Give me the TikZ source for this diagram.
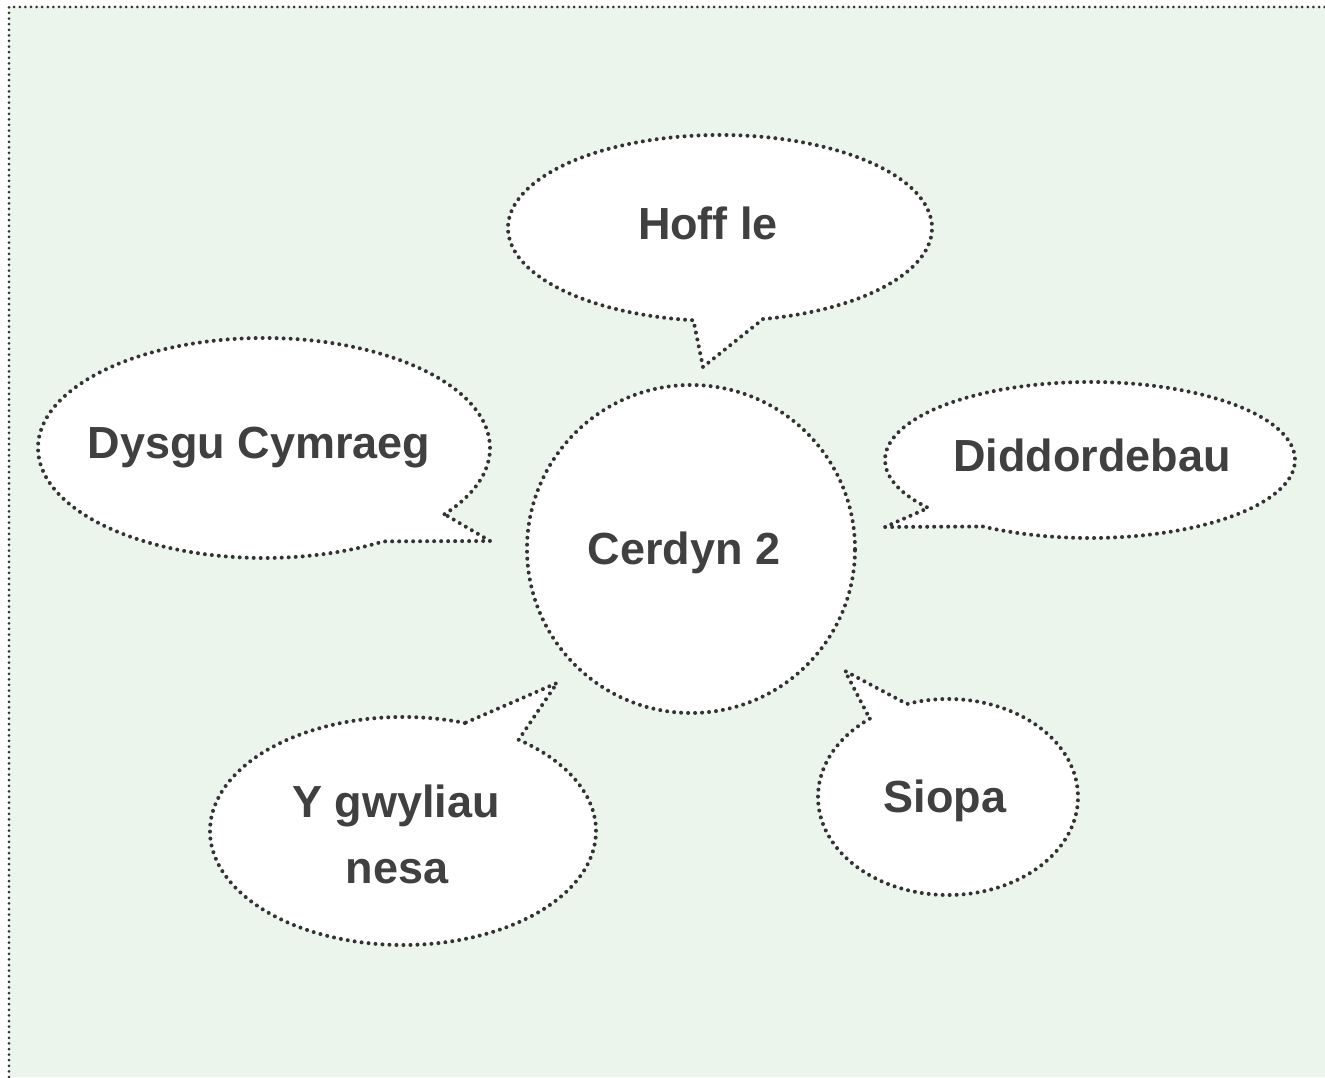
\documentclass[tikz,border=0pt]{standalone}
\usepackage{fontspec}
\setmainfont[Ligatures=NoCommon]{Liberation Sans}
\definecolor{bg}{HTML}{EBF5EC}
\definecolor{ink}{HTML}{404040}
\definecolor{dotc}{HTML}{333333}
\begin{document}
\begin{tikzpicture}[x=1pt,y=1pt,
  bubble/.style={fill=white,draw=dotc,line width=4pt,dash pattern=on 0pt off 7pt,line cap=round,line join=round},
  frameline/.style={draw=dotc,line width=3pt,dash pattern=on 0pt off 5.6pt,line cap=round},
  label/.style={text=ink,font=\bfseries\fontsize{45}{66}\selectfont,inner sep=0pt,anchor=base}]
\useasboundingbox (0,0) rectangle (1325,1077);
% background
\fill[bg] (9,0) rectangle (1325,1070);
\draw[frameline] (9,0) -- (9,1070) -- (1325,1070);
% centre circle
\draw[bubble] (691,528) circle[radius=164];
% Hoff le
\draw[bubble] ([shift={(-78.3:212 and 93)}]720,849) arc[start angle=-78.3,end angle=262.8,x radius=212,y radius=93] -- (703,710) -- cycle;
% Dysgu Cymraeg
\draw[bubble] ([shift={(-37:226 and 110)}]264,629) arc[start angle=-37,end angle=301.9,x radius=226,y radius=110] -- (490,536) -- cycle;
% Diddordebau
\draw[bubble] ([shift={(-121.5:205 and 78)}]1090,617) arc[start angle=-121.5,end angle=217.9,x radius=205,y radius=78] -- (885,550) -- cycle;
% Y gwyliau nesa
\draw[bubble] ([shift={(71.3:193 and 114)}]403,246) arc[start angle=71.3,end angle=413.2,x radius=193,y radius=114] -- (557,394) -- cycle;
% Siopa
\draw[bubble] ([shift={(127:130 and 98)}]948,280) arc[start angle=127,end angle=468.4,x radius=130,y radius=98] -- (845,406) -- cycle;
% texts
\node[label] (centre) at (684,512) {Cerdyn 2};
\node[label] (hoff) at (708,837) {Hoff le};
\node[label] (dysgu) at (259,618) {Dysgu Cymraeg};
\node[label] (didd) at (1092,605) {Diddordebau};
\node[label] (gwyl1) at (396,260) {Y gwyliau};
\node[label] (gwyl2) at (397,194) {nesa};
\node[label] (siopa) at (945,265) {Siopa};
\end{tikzpicture}
\end{document}
